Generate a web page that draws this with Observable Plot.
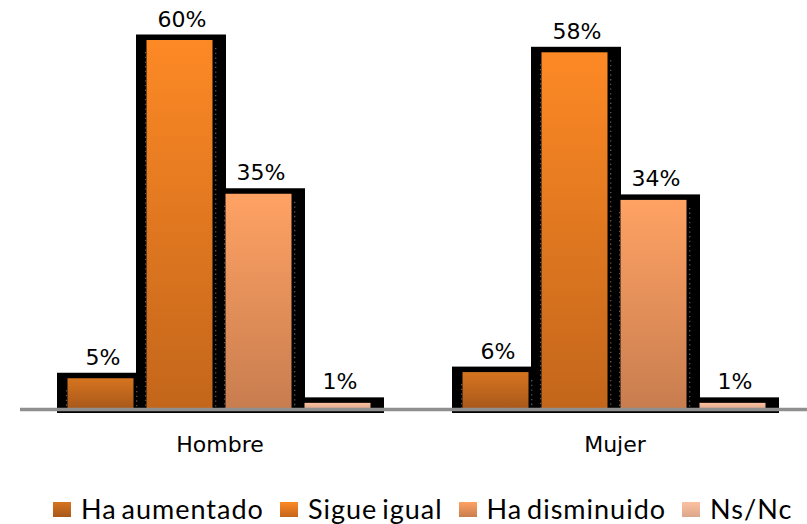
<!DOCTYPE html>
<html><head><meta charset="utf-8">
<script src="https://cdn.jsdelivr.net/npm/d3@7"></script>
<script src="https://cdn.jsdelivr.net/npm/@observablehq/plot@0.6"></script>
<style>
body{margin:0;background:#fff;}
#chart{position:relative;width:807px;height:524px;overflow:hidden;}
.legend{position:absolute;left:53px;top:499px;display:flex;align-items:center;font-family:Lato,"Open Sans",sans-serif;font-size:27px;color:#000;letter-spacing:1.0px;word-spacing:-3px;white-space:nowrap;}
.legend .it{display:flex;align-items:center;margin-right:16px;}
.legend .sw{width:18px;height:15px;margin-right:10px;flex:none;}
.legend span.t{line-height:20px;}
</style></head><body><div id="chart"></div>
<script>
const groups = ["Hombre", "Mujer"];
const series = ["Ha aumentado", "Sigue igual", "Ha disminuido", "Ns/Nc"];
const hombreValues = [5, 60, 35, 1];
const mujerValues = [6, 58, 34, 1];
const gradTop = ["#d6741f", "#fd8925", "#ffa264", "#fdc1a1"];
const gradBottom = ["#a8581b", "#c3661b", "#c87d4f", "#dca68b"];

const valuesByGroup = [hombreValues, mujerValues];
const data = [];
groups.forEach((g, gi) => series.forEach((s, si) => data.push({group: g, series: s, key: g + "|" + s, value: valuesByGroup[gi][si]})));
const slots = [];
groups.forEach((g, gi) => { if (gi > 0) slots.push("gap" + gi); series.forEach(s => slots.push(g + "|" + s)); });

const defsMark = () => {
  const defs = d3.create("svg:defs");
  gradTop.forEach((c, i) => {
    const g = defs.append("linearGradient").attr("id", "grad" + i).attr("x1", 0).attr("y1", 0).attr("x2", 0).attr("y2", 1);
    g.append("stop").attr("offset", "0%").attr("stop-color", c);
    g.append("stop").attr("offset", "100%").attr("stop-color", gradBottom[i]);
  });
  return defs.node();
};

const tall = data.filter(d => d.value >= 4);
const plot = Plot.plot({
  width: 807, height: 480,
  marginLeft: 55, marginRight: 37, marginTop: 40, marginBottom: 71,
  x: {domain: slots, padding: 0, axis: null},
  y: {domain: [0, 60], axis: null},
  style: {fontFamily: "'DejaVu Sans'", fontSize: "22px", color: "#000", background: "#fff", overflow: "visible"},
  marks: [
    defsMark,
    Plot.barY(data, {x: "key", y: "value", fill: "#000", insetLeft: 0, insetRight: -11, insetTop: -5.5, insetBottom: -4}),
    ...series.map((s, i) => Plot.barY(data.filter(d => d.series === s), {x: "key", y: "value", fill: `url(#grad${i})`, insetLeft: 10.5, insetRight: 2.5})),
    Plot.ruleX(tall, {x: "key", y1: "value", y2: 0, dx: -30.4, insetTop: 12, stroke: "#5a5a5a", strokeWidth: 1.3, strokeDasharray: "1.3,3.4"}),
    Plot.ruleX(tall, {x: "key", y1: "value", y2: 0, dx: 39.7, insetTop: 8, stroke: "#5a5a5a", strokeWidth: 1.3, strokeDasharray: "1.3,3.4"}),
    Plot.ruleY([0], {stroke: "#8f8f8f", strokeWidth: 3.5, insetLeft: -35, insetRight: -37}),
    Plot.text(data, {x: "key", y: "value", text: d => d.value + "%", dy: -14, dx: 6, lineAnchor: "bottom", fill: "#000", fontFamily: "DejaVu Sans", fontSize: 22}),
    Plot.text(groups, {x: g => g + "|" + series[1], text: d => d, frameAnchor: "bottom", dx: 44, dy: 42, lineAnchor: "bottom", fill: "#000", fontFamily: "DejaVu Sans", fontSize: 22})
  ]
});
const chart = document.getElementById("chart");
chart.appendChild(plot);

const legend = document.createElement("div");
legend.className = "legend";
series.forEach((s, i) => {
  const it = document.createElement("div");
  it.className = "it";
  const sw = document.createElement("div");
  sw.className = "sw";
  sw.style.background = `linear-gradient(${gradTop[i]}, ${gradBottom[i]})`;
  const t = document.createElement("span");
  t.className = "t";
  t.textContent = s;
  it.appendChild(sw); it.appendChild(t);
  legend.appendChild(it);
});
chart.appendChild(legend);
</script>
</body></html>
